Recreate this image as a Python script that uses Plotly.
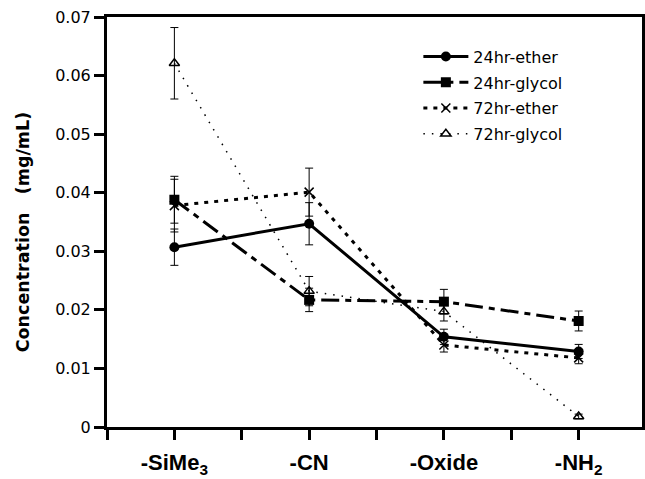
import plotly.graph_objects as go

categories = ["-SiMe<sub>3</sub>", "-CN", "-Oxide", "-NH<sub>2</sub>"]
xpos = [1, 2, 3, 4]

ether24 = [0.0307, 0.0347, 0.0154, 0.0129]
ether24_err = [0.0031, 0.0036, 0.0013, 0.0012]
glycol24 = [0.0388, 0.0217, 0.0214, 0.0181]
glycol24_err = [0.0040, 0.0020, 0.0021, 0.0017]
ether72 = [0.0378, 0.0401, 0.0140, 0.0118]
ether72_err = [0.0045, 0.0041, 0.0012, 0.0010]
glycol72 = [0.0621, 0.0232, 0.0197, 0.0018]
glycol72_err = [0.0061, 0.0025, 0.0016, 0.0004]

y_tickvals = [0, 0.01, 0.02, 0.03, 0.04, 0.05, 0.06, 0.07]
y_ticktext = ["0", "0.01", "0.02", "0.03", "0.04", "0.05", "0.06", "0.07"]
y_title = "Concentration   (mg/mL)"

font = "DejaVu Sans, sans-serif"
bold_font = "Liberation Sans, Arial, Helvetica, sans-serif"

def err(a):
    return dict(type="data", array=a, visible=True, color="black", thickness=1, width=4)

fig = go.Figure()
fig.add_trace(go.Scatter(x=xpos, y=ether24, name="24hr-ether", mode="lines+markers",
    line=dict(color="black", width=3), marker=dict(symbol="circle", size=10, color="black"),
    error_y=err(ether24_err), legendgroup="a"))
fig.add_trace(go.Scatter(x=xpos, y=glycol24, name="24hr-glycol", mode="lines+markers",
    line=dict(color="black", width=3, dash="18px,6px,6px,6px"),
    marker=dict(symbol="square", size=10, color="black"),
    error_y=err(glycol24_err), legendgroup="b"))
fig.add_trace(go.Scatter(x=xpos, y=ether72, name="72hr-ether", mode="lines+markers",
    line=dict(color="black", width=3, dash="4px,6px"),
    marker=dict(symbol="x-thin", size=9, color="black", line=dict(width=1.5, color="black")),
    error_y=err(ether72_err), legendgroup="c"))
fig.add_trace(go.Scatter(x=xpos, y=glycol72, name="72hr-glycol", mode="lines+markers",
    line=dict(color="black", width=1.5, dash="1.5px,7px"),
    marker=dict(symbol="triangle-up-open", size=9, color="black", line=dict(width=1.5)),
    error_y=err(glycol72_err), legendgroup="d"))

fig.update_layout(
    width=645, height=479,
    margin=dict(l=107, r=0, t=17, b=52),
    plot_bgcolor="white", paper_bgcolor="white",
    font=dict(family=font, color="black"),
    showlegend=True,
    legend=dict(x=0.582, y=0.945, xanchor="left", yanchor="top",
                font=dict(size=16, family=font), bgcolor="rgba(0,0,0,0)",
                tracegroupgap=2, traceorder="grouped", itemwidth=45),
    xaxis=dict(range=[0.5, 4.47], tickmode="array", tickvals=xpos, ticktext=categories,
               showgrid=False, zeroline=False, showline=True, linecolor="black", linewidth=3,
               mirror=True, ticks="outside", ticklen=10, tickwidth=2.5, tickcolor="black",
               ticklabelstandoff=4,
               minor=dict(tick0=0.5, dtick=1, ticks="outside", ticklen=10, tickwidth=2.5,
                          tickcolor="black", showgrid=False),
               tickfont=dict(size=22, family=bold_font, weight="bold")),
    yaxis=dict(range=[0, 0.07], tickmode="array",
               tickvals=y_tickvals, ticktext=y_ticktext,
               showgrid=False, zeroline=False, showline=True, linecolor="black", linewidth=3,
               mirror=True, ticks="outside", ticklen=10, tickwidth=2.5, tickcolor="black",
               tickfont=dict(size=16, family=font)),
    annotations=[dict(text=y_title, xref="paper", yref="paper", x=-0.158, y=0.476,
                      xanchor="center", yanchor="middle", textangle=-90, showarrow=False,
                      font=dict(size=17.5, family=font, weight="bold"))],
)

fig.write_html("out.html")
